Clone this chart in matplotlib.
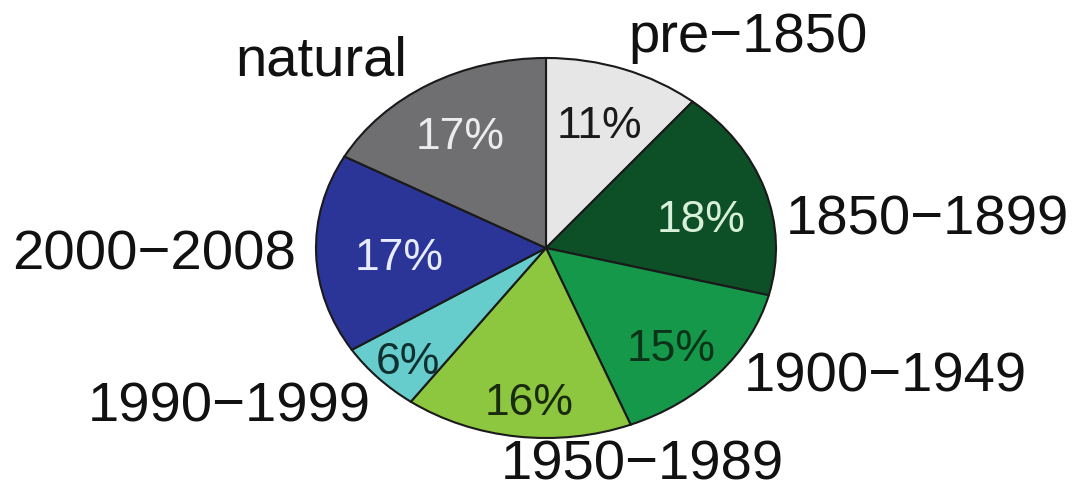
import numpy as np
import matplotlib.pyplot as plt

plt.rcParams['font.family'] = ['Liberation Sans', 'DejaVu Sans']

periods = ["pre\u22121850", "1850\u22121899", "1900\u22121949", "1950\u22121989",
           "1990\u22121999", "2000\u22122008", "natural"]
shares = [11, 18, 15, 16, 6, 17, 17]
colors = ["#e6e6e6", "#0d4f26", "#16984a", "#8dc63f", "#66cccc", "#2b3597", "#6f6f72"]
pct_colors = ["#1a1a1a", "#d8f0da", "#0b3318", "#1a2a10", "#10302f", "#e8ecff", "#ececec"]

# where the period names sit, in stretched pie units
label_xy = [(0.88, 1.105), (1.657, 0.147), (1.474, -0.684), (0.42, -1.147),
            (-1.378, -0.842), (-1.704, -0.037), (-0.978, 0.979)]
# radial distance of each percentage, in pie radii
pct_r = [0.68, 0.69, 0.76, 0.82, 0.85, 0.64, 0.69]
pct_shift = [0, -6, -3, 2, 2, 3, 2]  # degrees

fig = plt.figure(figsize=(10.81, 4.94), dpi=100)
ax = fig.add_axes([316/1081, 56/494, 460/1081, 380/494])

wedges, _ = ax.pie(shares, colors=colors, startangle=90, counterclock=False,
                   wedgeprops=dict(edgecolor="#1a1a1a", linewidth=1.5))
ax.set_aspect('auto')
ax.set_xlim(-1, 1)
ax.set_ylim(-1, 1)
ax.axis('off')

cum = np.cumsum([0] + shares)
for i, s in enumerate(shares):
    mid = 90 - 360 * (cum[i] + s / 2) / 100 + pct_shift[i]
    t = np.deg2rad(mid)
    ax.text(pct_r[i] * np.cos(t), pct_r[i] * np.sin(t), f"{s}%",
            ha="center", va="center", fontsize=32, color=pct_colors[i])
    ax.text(label_xy[i][0], label_xy[i][1], periods[i],
            ha="center", va="center", fontsize=40.5, color="#111111")

fig.savefig("out.png", dpi=100)
